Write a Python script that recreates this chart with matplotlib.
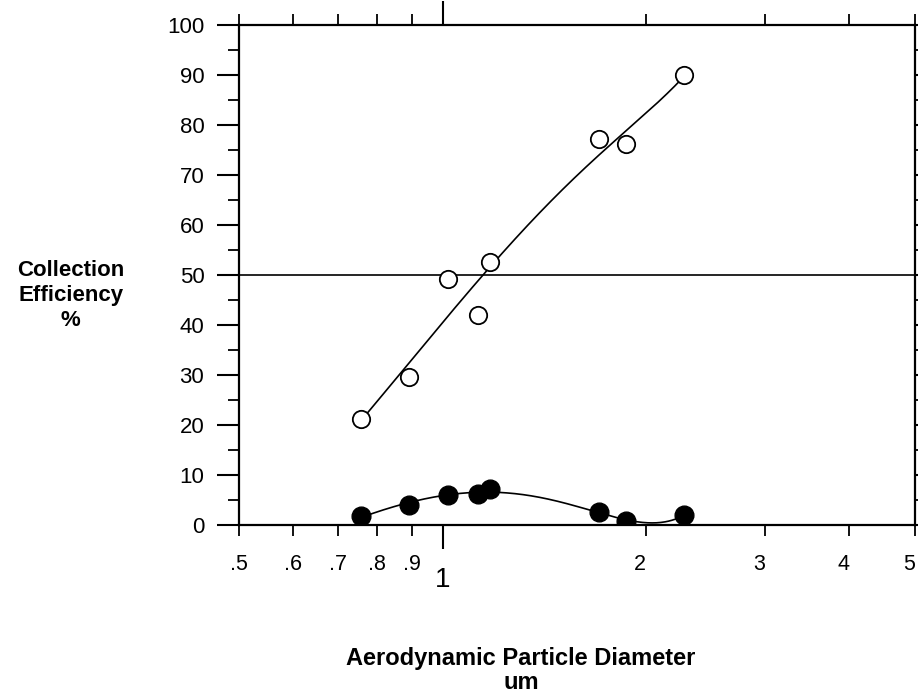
import numpy as np
import matplotlib
matplotlib.use('Agg')
import matplotlib.pyplot as plt
from matplotlib.ticker import NullFormatter
from matplotlib.transforms import ScaledTranslation

plt.rcParams['font.family'] = ['Liberation Sans', 'DejaVu Sans']

# data
diam = [0.757, 0.892, 1.019, 1.129, 1.175, 1.704, 1.868, 2.276]
eff_open = [21.2, 29.6, 49.2, 42.0, 52.6, 77.2, 76.2, 90.0]
eff_filled = [1.8, 4.0, 6.0, 6.2, 7.2, 2.6, 0.8, 2.0]

minor_ticks = [0.5, 0.6, 0.7, 0.8, 0.9, 2, 3, 4, 5]
minor_labels = ['.5', '.6', '.7', '.8', '.9', '2', '3', '4', '5']

# smooth cubic fits through the points, negative part clipped at 0
xs = np.linspace(min(diam), max(diam), 300)
fit_open = np.polyval(np.polyfit(diam, eff_open, 3), xs)
fit_filled = np.clip(np.polyval(np.polyfit(diam, eff_filled, 3), xs), 0, None)

fig = plt.figure(figsize=(9.18, 6.93), dpi=100)
ax = fig.add_axes([0.2604, 0.2424, 0.7363, 0.7215])

ax.plot(xs, fit_open, color='black', lw=1.2, zorder=2)
ax.plot(xs, fit_filled, color='black', lw=1.2, zorder=2)
ax.plot(diam, eff_open, 'o', ms=12.5, mfc='white', mec='black', mew=1.3, zorder=3)
ax.plot(diam, eff_filled, 'o', ms=13.5, mfc='black', mec='black', zorder=3)
ax.axhline(50, color='black', lw=1.2, zorder=1)

ax.set_xscale('log')
ax.set_xlim(0.5, 5)
ax.set_ylim(0, 100)

ax.set_xticks([1])
ax.set_xticklabels(['1'], fontsize=20)
ax.set_xticks(minor_ticks, minor=True)
ax.set_xticklabels(minor_labels, minor=True, fontsize=15.5)
ax.set_yticks(range(0, 101, 10))
ax.set_yticks(range(5, 100, 10), minor=True)
ax.yaxis.set_minor_formatter(NullFormatter())

ax.tick_params(axis='x', which='major', direction='out', length=17, width=1.5,
               top=True, pad=13.5)
ax.tick_params(axis='x', which='minor', direction='out', length=8, width=1.3,
               top=True, pad=13)
ax.tick_params(axis='y', which='major', direction='out', length=16, width=1.5,
               right=True, labelsize=16, pad=9)
ax.tick_params(axis='y', which='minor', direction='out', length=8, width=1.3,
               right=True)
for s in ax.spines.values():
    s.set_linewidth(1.6)

# whole-number labels sit a little left of their ticks in the original
shift = ScaledTranslation(-6 / 100, 0, fig.dpi_scale_trans)
for lbl in ax.get_xticklabels(minor=True):
    if not lbl.get_text().startswith('.'):
        lbl.set_transform(lbl.get_transform() + shift)

fig.text(0.077, 0.574, 'Collection\nEfficiency\n%', ha='center', va='center',
         fontsize=16, fontweight='bold', linespacing=1.25)
fig.text(0.5675, 0.033, 'Aerodynamic Particle Diameter\num', ha='center',
         va='center', fontsize=17, fontweight='bold', linespacing=1.05)

plt.savefig('out.png', dpi=100)
